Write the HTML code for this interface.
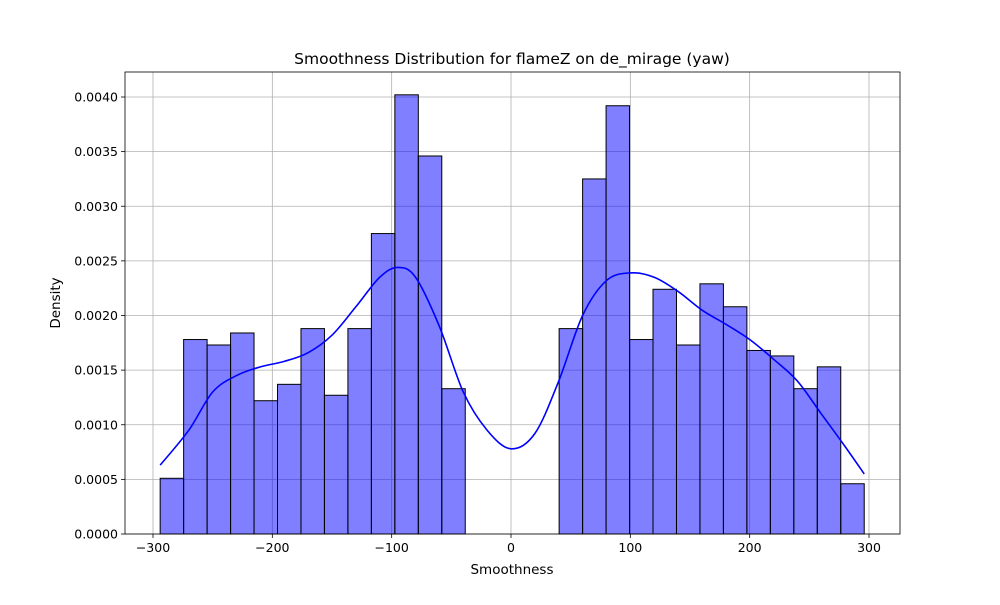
<!DOCTYPE html>
<html><head><meta charset="utf-8"><style>
body{margin:0;background:#fff;font-family:"Liberation Sans","DejaVu Sans",sans-serif}
</style></head><body>
<svg id="chart" width="1000" height="600" xmlns="http://www.w3.org/2000/svg" font-family="DejaVu Sans, Liberation Sans, sans-serif"></svg>
<script>
const binStart = -294;
const binEnd = 296;
const binValues = [0.00051,0.00178,0.00173,0.00184,0.00122,0.00137,0.00188,0.00127,0.00188,0.00275,0.00402,0.00346,0.00133,0,0,0,0,0.00188,0.00325,0.00392,0.00178,0.00224,0.00173,0.00229,0.00208,0.00168,0.00163,0.00133,0.00153,0.00046];
const kdeX = [-294,-270,-250,-230,-210,-190,-170,-150,-130,-110,-95,-80,-60,-40,-20,0,20,40,60,80,100,120,140,160,180,200,220,240,260,280,296];
const kdeY = [0.00063,0.00095,0.0013,0.00145,0.00153,0.00158,0.00166,0.00182,0.00208,0.00235,0.00244,0.00235,0.0019,0.0013,0.00095,0.00078,0.00092,0.0014,0.002,0.00232,0.00239,0.00235,0.00222,0.00205,0.00192,0.00178,0.0016,0.0014,0.0011,0.0008,0.00055];
const xTicks = [-300,-200,-100,0,100,200,300];
const yTicks = [0,0.0005,0.001,0.0015,0.002,0.0025,0.003,0.0035,0.004];

const L=125,R=900,T=72,B=534;
const xs = v => 511 + v*(716/600);
const ys = v => 534 - v*(437/0.004);
const svg = document.getElementById('chart');
const NS='http://www.w3.org/2000/svg';
function mk(tag, attrs){const e=document.createElementNS(NS,tag);for(const k in attrs)e.setAttribute(k,attrs[k]);svg.appendChild(e);return e;}

for(const t of xTicks){const g=mk('line',{x1:xs(t),x2:xs(t),y1:T,y2:B,stroke:'#b0b0b0','stroke-width':0.8});

}
for(const t of yTicks){const g=mk('line',{x1:L,x2:R,y1:ys(t),y2:ys(t),stroke:'#b0b0b0','stroke-width':0.8});

}

const w=(binEnd-binStart)/binValues.length;
binValues.forEach((v,i)=>{
  if(v<=0)return;
  const x0=xs(binStart+i*w), x1=xs(binStart+(i+1)*w);
  const r=mk('rect',{x:x0,y:ys(v),width:x1-x0,height:ys(0)-ys(v),fill:'rgba(0,0,255,0.5)',stroke:'#000','stroke-width':1});
  
  
});

// smooth kde (Catmull-Rom)
const P=kdeX.map((x,i)=>[xs(x),ys(kdeY[i])]);
let d='M'+P[0][0]+','+P[0][1];
for(let i=0;i<P.length-1;i++){
  const p0=P[Math.max(i-1,0)],p1=P[i],p2=P[i+1],p3=P[Math.min(i+2,P.length-1)];
  const c1=[p1[0]+(p2[0]-p0[0])/6,p1[1]+(p2[1]-p0[1])/6];
  const c2=[p2[0]-(p3[0]-p1[0])/6,p2[1]-(p3[1]-p1[1])/6];
  d+=' C'+c1[0]+','+c1[1]+' '+c2[0]+','+c2[1]+' '+p2[0]+','+p2[1];
}
const kl=mk('path',{d:d,fill:'none',stroke:'#0000ff','stroke-width':1.6,'stroke-linejoin':'round'});



const fr=mk('rect',{x:L,y:T,width:R-L,height:B-T,fill:'none',stroke:'#000','stroke-width':0.8});



for(const t of xTicks){
  mk('line',{x1:xs(t),x2:xs(t),y1:B,y2:B+4,stroke:'#000','stroke-width':0.8});
  const tx=mk('text',{x:xs(t),y:B+18,'text-anchor':'middle','font-size':12.5});
  tx.textContent=t<0?'\u2212'+(-t):String(t);
  
  
}
for(const t of yTicks){
  mk('line',{x1:L-4,x2:L,y1:ys(t),y2:ys(t),stroke:'#000','stroke-width':0.8});
  const tx=mk('text',{x:L-7,y:ys(t)+4.5,'text-anchor':'end','font-size':12.5});
  tx.textContent=t.toFixed(4);
  
  
}
const xt=mk('text',{x:512,y:574,'text-anchor':'middle','font-size':13.5});xt.textContent='Smoothness';


const yt=mk('text',{x:60,y:303,'text-anchor':'middle','font-size':13.5,transform:'rotate(-90 60 303)'});yt.textContent='Density';


const ti=mk('text',{x:512,y:64,'text-anchor':'middle','font-size':15.5});ti.textContent='Smoothness Distribution for flameZ on de_mirage (yaw)';


</script>
</body></html>
